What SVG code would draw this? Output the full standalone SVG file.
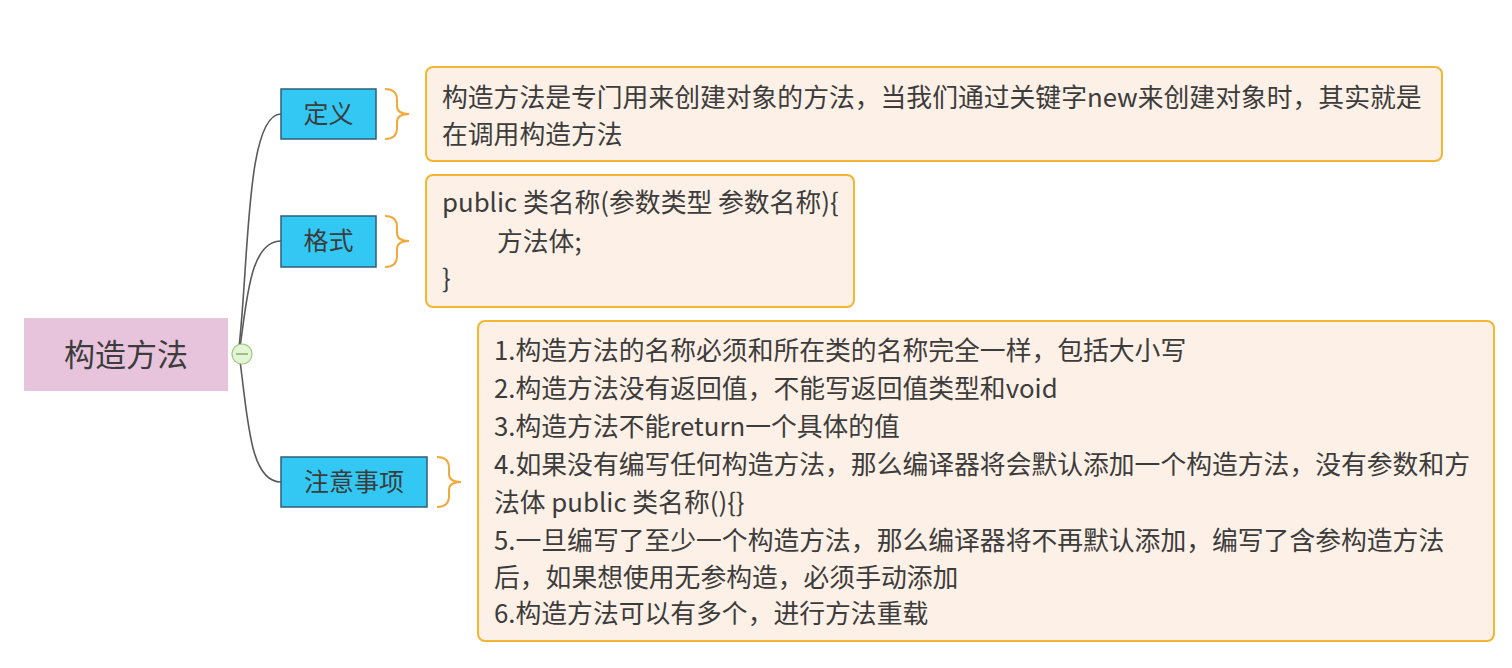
<svg xmlns="http://www.w3.org/2000/svg" width="1512" height="668" viewBox="0 0 1512 668">
<style>
text{font-family:"Noto Sans CJK SC","Microsoft YaHei",sans-serif;fill:#3c3c3c}
.note{fill:#fdf0e6;stroke:#f2b630;stroke-width:2}
.topic{fill:#33c8f4;stroke:#2d5f78;stroke-width:1.5}
.t{font-size:25px}
.n{font-size:25.8px}
.brace{fill:none;stroke:#f3a93a;stroke-width:2}
.conn{fill:none;stroke:#5a5a5a;stroke-width:1.6}
</style>
<rect width="1512" height="668" fill="#ffffff"/>
<g id="connectors">
<path class="conn" d="M 239 347 C 249 260, 246 114, 281 114"/>
<path class="conn" d="M 240 347 C 247 300, 250 241, 281 241"/>
<path class="conn" d="M 240 361 C 248 420, 250 482, 281 482"/>
<path class="brace" d="M 385 89 Q 397 89 397 100 L 397 106 Q 397 114 409 114 Q 397 114 397 122 L 397 128 Q 397 139 385 139"/>
<path class="brace" d="M 385 216 Q 397 216 397 227 L 397 233 Q 397 241 409 241 Q 397 241 397 249 L 397 256 Q 397 267 385 267"/>
<path class="brace" d="M 437 457 Q 449 457 449 468 L 449 474 Q 449 482 461 482 Q 449 482 449 490 L 449 496 Q 449 507 437 507"/>
</g>
<g id="root">
<rect x="24" y="318" width="204" height="73" fill="#e8c4dc"/>
<text x="126" y="366" font-size="31" text-anchor="middle">构造方法</text>
</g>
<g id="collapse">
<circle cx="242" cy="354" r="10" fill="#e4f5d6" stroke="#9ccc7c" stroke-width="1.2"/>
<line x1="236" y1="354" x2="248" y2="354" stroke="#6f9a55" stroke-width="1.2"/>
</g>
<g id="node-def">
<rect class="topic" x="281" y="89" width="95" height="50"/>
<text class="t" x="328.5" y="123" text-anchor="middle">定义</text>
</g>
<g id="node-fmt">
<rect class="topic" x="281" y="216" width="95" height="51"/>
<text class="t" x="328.5" y="250" text-anchor="middle">格式</text>
</g>
<g id="node-notes">
<rect class="topic" x="281" y="457" width="146" height="50"/>
<text class="t" x="354" y="491" text-anchor="middle">注意事项</text>
</g>
<g id="note-def">
<rect class="note" x="426" y="67" width="1016" height="94" rx="7"/>
<text class="n" x="442" y="107">构造方法是专门用来创建对象的方法，当我们通过关键字new来创建对象时，其实就是</text>
<text class="n" x="442" y="144">在调用构造方法</text>
</g>
<g id="note-fmt">
<rect class="note" x="426" y="175" width="428" height="132" rx="7"/>
<text class="n" x="442" y="212">public 类名称(参数类型 参数名称){</text>
<text class="n" x="497" y="251">方法体;</text>
<text class="n" x="442" y="288">}</text>
</g>
<g id="note-notes">
<rect class="note" x="478" y="321" width="1016" height="320" rx="7"/>
<text class="n" x="494" y="360">1.构造方法的名称必须和所在类的名称完全一样，包括大小写</text>
<text class="n" x="494" y="398">2.构造方法没有返回值，不能写返回值类型和void</text>
<text class="n" x="494" y="436">3.构造方法不能return一个具体的值</text>
<text class="n" x="494" y="474">4.如果没有编写任何构造方法，那么编译器将会默认添加一个构造方法，没有参数和方</text>
<text class="n" x="494" y="512">法体 public 类名称(){}</text>
<text class="n" x="494" y="550">5.一旦编写了至少一个构造方法，那么编译器将不再默认添加，编写了含参构造方法</text>
<text class="n" x="494" y="587">后，如果想使用无参构造，必须手动添加</text>
<text class="n" x="494" y="623">6.构造方法可以有多个，进行方法重载</text>
</g>
</svg>
